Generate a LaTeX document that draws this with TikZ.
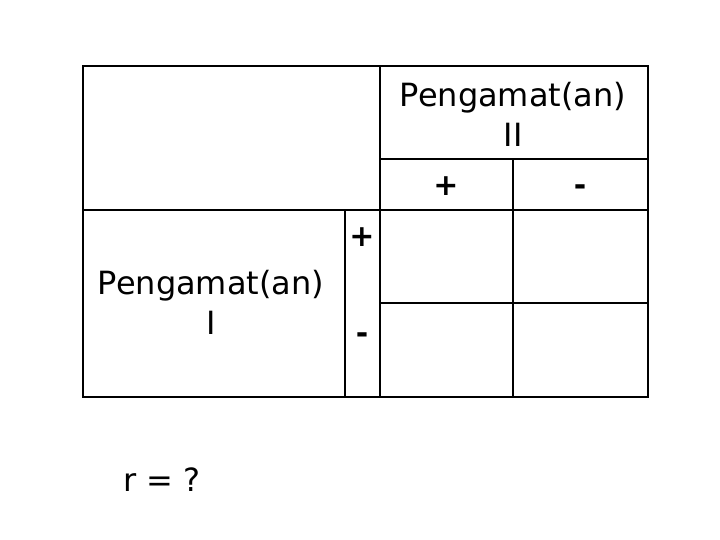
\documentclass[tikz,border=0pt]{standalone}
\usepackage{fontspec}
\setmainfont{DejaVu Sans}
\begin{document}
\begin{tikzpicture}[x=1pt,y=-1pt,line width=2.4pt,
  lbl/.style={font=\fontsize{32}{40}\selectfont,align=center,inner sep=0pt},
  sgn/.style={font=\bfseries\fontsize{30}{36}\selectfont,inner sep=0pt}]
\useasboundingbox (0,0) rectangle (720,540);
\coordinate (tl) at (83,66); \coordinate (br) at (648,397);
\draw (tl) rectangle (br);
\draw (83,210) -- (648,210);
\draw (380,66) -- (380,397);
\draw (380,159) -- (648,159);
\draw (513,159) -- (513,397);
\draw (345,210) -- (345,397);
\draw (380,303) -- (648,303);
\node[lbl] (p2) at (513,114) {Pengamat(an)\\II};
\node[lbl] (p1) at (211,302) {Pengamat(an)\\I};
\node[sgn] (c1) at (446,186) {+};
\node[sgn] (c2) at (580,190) {-};
\node[sgn] (r1) at (362,237) {+};
\node[sgn] (r2) at (362,338) {-};
\node[lbl] (r) at (162,480) {r = ?};
\end{tikzpicture}
\end{document}
